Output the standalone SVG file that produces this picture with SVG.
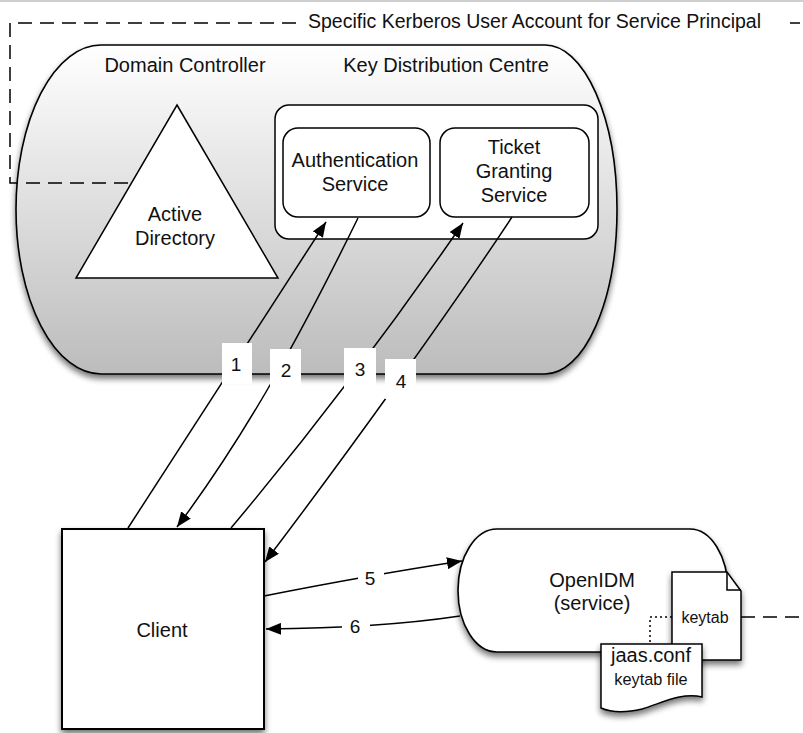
<svg xmlns="http://www.w3.org/2000/svg" width="803" height="733" viewBox="0 0 803 733">
<style>
text{font-family:"Liberation Sans",Arial,sans-serif;fill:#111;text-anchor:middle;font-size:20px}
.s{fill:none;stroke:#000;stroke-width:1.5}
.w{fill:#fff;stroke:#000;stroke-width:1.5}
.dash{fill:none;stroke:#000;stroke-width:1.5;stroke-dasharray:14 8}
.dot{fill:none;stroke:#000;stroke-width:1.5;stroke-dasharray:2 3}
.lbl{fill:#fff;stroke:none}
.num{font-size:19px}
</style>
<defs>
<linearGradient id="g" x1="0" y1="0" x2="0" y2="1">
<stop offset="0" stop-color="#ffffff"/>
<stop offset="1" stop-color="#bcbcbc"/>
</linearGradient>
<filter id="sh" x="-10%" y="-10%" width="125%" height="130%">
<feGaussianBlur in="SourceAlpha" stdDeviation="3"/>
<feOffset dx="0" dy="4" result="o"/>
<feComponentTransfer><feFuncA type="linear" slope="0.55"/></feComponentTransfer>
<feMerge><feMergeNode/><feMergeNode in="SourceGraphic"/></feMerge>
</filter>
<marker id="ah" markerUnits="userSpaceOnUse" markerWidth="16" markerHeight="12" refX="15" refY="6" orient="auto">
<path d="M0,0 L15,6 L0,12 Z" fill="#000"/>
</marker>
</defs>
<line x1="0" y1="1" x2="803" y2="1" stroke="#cfcfcf" stroke-width="2"/>
<g id="domain-controller">
<path d="M101,45 H545 A72,164.5 0 0 1 545,374 H101 A85,164.5 0 0 1 101,45 Z" fill="url(#g)" stroke="#000" stroke-width="1.6" filter="url(#sh)"/>
<text x="185" y="72">Domain Controller</text>
</g>
<g id="active-directory">
<path d="M177,105 L278,278 L76,278 Z" class="w"/>
<text x="175" y="221">Active</text>
<text x="175" y="245">Directory</text>
</g>
<g id="kdc">
<text x="446" y="72">Key Distribution Centre</text>
<rect x="275" y="105" width="323" height="134" rx="14" class="w"/>
</g>
<g id="authentication-service">
<rect x="283" y="128" width="147" height="89" rx="15" class="w"/>
<text x="355" y="167">Authentication</text>
<text x="355" y="191">Service</text>
</g>
<g id="ticket-granting-service">
<rect x="440" y="128" width="149" height="89" rx="15" class="w"/>
<text x="514" y="154">Ticket</text>
<text x="514" y="178">Granting</text>
<text x="514" y="202">Service</text>
</g>
<g id="service-principal">
<path d="M296,23 H10 V183 H131" class="dash"/>
<line x1="790" y1="23" x2="800" y2="23" stroke="#000" stroke-width="1.5"/>
<text x="308" y="28" style="text-anchor:start;font-size:19.5px">Specific Kerberos User Account for Service Principal</text>
</g>
<g id="client">
<rect x="62" y="529" width="202" height="200" fill="#fff" stroke="#000" stroke-width="2" filter="url(#sh)"/>
<text x="162" y="637">Client</text>
</g>
<g id="openidm">
<path d="M497,529 H690 A38,61.5 0 0 1 690,652 H497 A39,61.5 0 0 1 497,529 Z" fill="#fff" stroke="#000" stroke-width="1.6" filter="url(#sh)"/>
<text x="592" y="587">OpenIDM</text>
<text x="592" y="610">(service)</text>
</g>
<g id="keytab">
<path d="M672,572 H727 L741,591 V660 H672 Z" fill="#fff" stroke="#000" stroke-width="1.5" filter="url(#sh)"/>
<path d="M727,572 V590 H741" class="s"/>
<text x="705" y="623" style="font-size:16px">keytab</text>
</g>
<g id="jaas-conf">
<path d="M601,644 H702 V697 C682,692 662,703 642,709 C625,713 610,712 601,708 Z" fill="#fff" stroke="#000" stroke-width="1.5" filter="url(#sh)"/>
<text x="651" y="662">jaas.conf</text>
<text x="651" y="685" style="font-size:16.3px">keytab file</text>
</g>
<g id="connectors">
<path d="M128,528 L326,222" class="s" marker-end="url(#ah)"/>
<path d="M358,218 C309,318 252,427 177,527" class="s" marker-end="url(#ah)"/>
<path d="M231,528 C315,428 394,323 463,223" class="s" marker-end="url(#ah)"/>
<path d="M512,217 C446,317 341,462 265,562" class="s" marker-end="url(#ah)"/>
<path d="M264,596 Q370,575 462,561" class="s" marker-end="url(#ah)"/>
<path d="M460,616 Q380,628 266,629" class="s" marker-end="url(#ah)"/>
<path d="M741,617 H803" class="dash"/>
<path d="M672,617 H650 V644" class="dot"/>
<rect x="222" y="343" width="30" height="41" class="lbl"/>
<text x="236" y="371" class="num">1</text>
<rect x="270" y="349" width="31" height="42" class="lbl"/>
<text x="286" y="377" class="num">2</text>
<rect x="344" y="348" width="32" height="41" class="lbl"/>
<text x="360" y="376" class="num">3</text>
<rect x="385" y="359" width="31" height="40" class="lbl"/>
<text x="401" y="388" class="num">4</text>
<rect x="358" y="566" width="26" height="26" class="lbl"/>
<text x="370" y="585" class="num">5</text>
<rect x="342" y="613" width="28" height="27" class="lbl"/>
<text x="355" y="633" class="num">6</text>
</g>
</svg>
